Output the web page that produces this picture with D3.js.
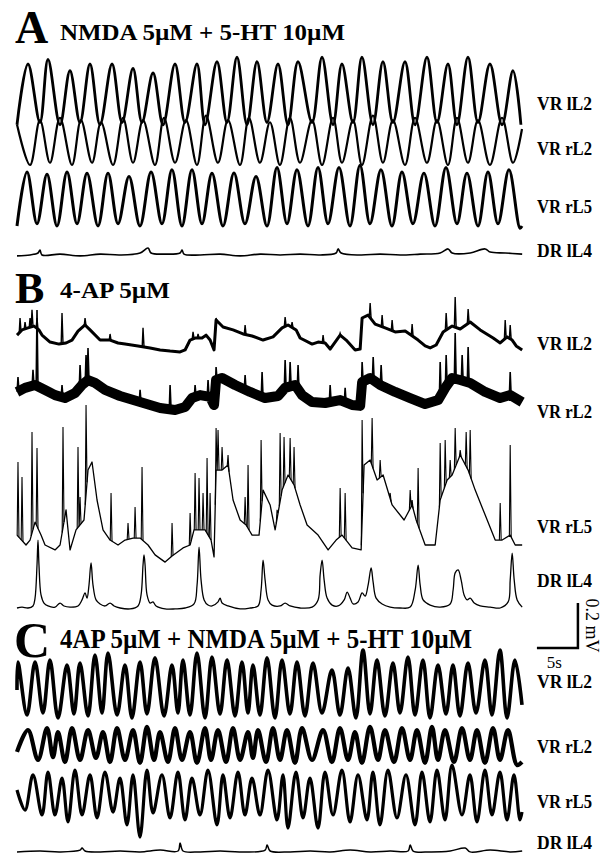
<!DOCTYPE html>
<html>
<head>
<meta charset="utf-8">
<script src="https://cdn.jsdelivr.net/npm/d3@7"></script>
<style>
  body { margin: 0; background: #fff; }
  svg { display: block; }
  text { font-family: "Liberation Serif", "Times New Roman", serif; fill: #000; }
</style>
</head>
<body>
<svg id="fig" width="610" height="854"></svg>
<script>
'use strict';

// ---- data: [time (s), potential (mV)] ----
const panelLetters = ['A', 'B', 'C'];
const panelTitles = ['NMDA 5\u00b5M + 5-HT 10\u00b5M', '4-AP 5\u00b5M', '4AP 5\u00b5M + NMDA 5\u00b5M + 5-HT 10\u00b5M'];
const channelLabels = ['VR lL2', 'VR rL2', 'VR rL5', 'DR lL4'];
const scaleBar = { seconds: 5, mV: 0.2 };

// Panel A
const aVRlL2 = [[0,0.01],[1.34,0.28],[2.8,0.02],[3.78,0.30],[5.24,0.01],[6.46,0.25],[7.68,0.02],[8.9,0.28],[10.12,0.01],[11.59,0.28],[12.81,0.02],[14.15,0.26],[15.24,0.02],[16.59,0.24],[17.81,0.01],[19.27,0.28],[20.49,0.02],[21.95,0.28],[22.93,0.01],[24.39,0.29],[25.61,0.02],[26.83,0.31],[28.05,0.01],[29.27,0.29],[30.49,0.02],[31.83,0.28],[33.05,0.01],[34.27,0.29],[35.98,0.02],[37.2,0.31],[38.54,0.01],[39.63,0.28],[40.98,0.02],[42.07,0.31],[43.41,0.01],[44.63,0.29],[45.85,0.02],[47.32,0.29],[48.54,0.01],[50.0,0.31],[51.22,0.02],[52.56,0.28],[53.66,0.01],[55.0,0.31],[56.22,0.02],[57.68,0.28],[59.15,0.01],[60.49,0.25],[61.46,0.01]];
const aVRrL2 = [[0,0.18],[1.59,0.0],[2.8,0.2],[4.02,0.01],[5.24,0.21],[6.71,0.0],[7.8,0.2],[9.15,0.01],[10.25,0.19],[11.71,0.0],[12.93,0.21],[14.15,0.01],[15.37,0.2],[16.83,0.0],[17.93,0.21],[19.27,0.01],[20.61,0.2],[21.95,0.0],[23.05,0.22],[24.51,0.01],[25.73,0.2],[27.2,0.0],[28.29,0.21],[29.63,0.01],[30.85,0.19],[32.07,0.0],[33.29,0.21],[34.51,0.01],[35.98,0.2],[37.2,0.0],[38.54,0.21],[39.63,0.01],[40.98,0.2],[42.07,0.0],[43.41,0.22],[44.63,0.01],[45.85,0.2],[47.32,0.0],[48.54,0.21],[50.0,0.01],[51.22,0.2],[52.56,0.0],[53.66,0.21],[55.0,0.01],[56.22,0.2],[57.68,0.0],[59.15,0.21],[60.49,0.01],[61.59,0.16]];
const aVRrL5 = [[0,0.0],[1.22,0.24],[2.44,0.01],[3.66,0.23],[4.88,0.0],[6.1,0.24],[7.32,0.01],[8.54,0.235],[9.88,0.0],[11.1,0.235],[12.32,0.01],[13.66,0.22],[15.0,0.0],[16.35,0.24],[17.68,0.01],[18.9,0.25],[20.12,0.0],[21.34,0.25],[22.56,0.01],[23.78,0.235],[25.12,0.0],[26.46,0.235],[27.8,0.01],[29.15,0.22],[30.49,0.0],[31.71,0.26],[32.93,0.01],[34.15,0.25],[35.49,0.0],[36.71,0.26],[37.93,0.01],[39.27,0.26],[40.61,0.0],[41.83,0.27],[43.05,0.01],[44.39,0.25],[45.73,0.0],[46.95,0.24],[48.29,0.01],[49.63,0.235],[50.98,0.0],[52.32,0.26],[53.66,0.01],[54.88,0.235],[56.22,0.0],[57.44,0.24],[58.66,0.01],[60.0,0.25],[61.34,-0.01],[61.59,0.0]];
const aDRlL4 = [[0,-0.004],[1.59,0],[2.56,0.009],[2.8,0.022],[3.05,0],[5.25,0.004],[7.69,-0.004],[10.13,0.004],[12.57,0],[15.01,0.009],[15.98,0.031],[16.35,0.009],[18.06,0.004],[19.89,0.009],[20.13,0.022],[20.37,0.004],[22.33,0],[24.77,0.004],[27.21,-0.004],[29.65,0.004],[32.09,0],[34.53,0.004],[36.97,0],[38.92,0.009],[39.16,0.027],[39.53,0.009],[41.85,0],[44.29,0.004],[46.73,0],[49.17,0.004],[51.61,0.009],[52.58,0.027],[53.07,0.009],[55.27,0.009],[57.1,0.027],[57.71,0.013],[59.54,0.009],[61.61,0.004]];

// Panel B: slow course plus fast spikes [time, peak]
const bVRlL2 = [[0,0.044],[0.61,0.067],[1.34,0.076],[2.07,0.084],[2.68,0.067],[3.05,0.044],[4.03,0.013],[5.12,0.004],[5.98,0.009],[6.71,0.022],[7.44,0.062],[8.3,0.089],[8.91,0.067],[10.13,0.022],[11.35,0.022],[12.32,0.009],[13.18,0.004],[14.76,-0.004],[16.23,-0.013],[17.45,-0.022],[18.67,-0.027],[19.89,-0.031],[20.5,-0.022],[21.11,0.022],[21.72,0.031],[22.57,0.031],[23.06,0.044],[23.55,0.022],[24.03,-0.022],[24.28,0.111],[25.13,0.08],[26.35,0.067],[27.57,0.049],[28.67,0.04],[30.01,0.022],[31.23,0.036],[32.33,0.076],[33.06,0.089],[34.04,0.067],[34.53,0.031],[35.99,0.004],[36.72,0.013],[37.58,0.009],[38.19,-0.018],[39.41,0.044],[40.14,0.022],[41.24,-0.022],[41.85,-0.018],[42.09,0.12],[42.82,0.133],[43.68,0.093],[44.9,0.076],[46.12,0.058],[47.34,0.062],[48.92,0.022],[49.78,-0.004],[50.39,-0.013],[51.12,0.0],[51.97,0.058],[53.07,0.084],[54.05,0.071],[55.27,0.102],[56.49,0.067],[58.07,0.031],[58.93,0.009],[59.78,0.036],[60.39,0.022],[60.88,-0.004],[61.61,-0.022]];
const bVRlL2Spikes = [[0.37,0.12],[0.98,0.102],[1.59,0.12],[1.83,0.156],[2.44,0.12],[5.49,0.142],[8.3,0.12],[11.35,0.049],[15.37,0.076],[21.47,0.058],[22.08,0.049],[24.28,0.12],[27.82,0.089],[32.7,0.124],[33.55,0.102],[37.33,0.044],[39.41,0.053],[43.07,0.187],[44.53,0.133],[45.75,0.111],[48.19,0.093],[52.34,0.142],[53.44,0.213],[55.02,0.16],[59.54,0.111],[60.15,0.089]];
const bVRrL2 = [[0,0.058],[0.98,0.076],[2.2,0.089],[3.42,0.067],[4.64,0.044],[5.86,0.031],[7.08,0.053],[7.93,0.089],[8.66,0.111],[9.52,0.098],[10.74,0.067],[12.57,0.04],[15.01,0.013],[17.45,-0.013],[19.28,-0.022],[20.5,-0.009],[21.35,0.031],[22.33,0.044],[23.55,0.036],[24.03,0.0],[24.28,0.111],[25.01,0.12],[26.6,0.089],[28.43,0.058],[30.26,0.031],[31.84,0.04],[32.7,0.076],[33.92,0.089],[34.77,0.044],[35.99,0.013],[37.58,0.009],[39.41,0.022],[40.87,0.0],[41.85,-0.004],[42.09,0.102],[43.07,0.12],[44.29,0.089],[46.12,0.058],[47.95,0.031],[49.78,0.004],[51.37,0.022],[52.22,0.076],[53.07,0.12],[54.05,0.111],[55.27,0.098],[57.1,0.058],[58.93,0.031],[60.15,0.044],[61.61,0.013]];
const bVRrL2Spikes = [[0.12,0.124],[1.95,0.156],[2.44,0.422],[5.49,0.089],[7.69,0.178],[8.42,0.222],[8.66,0.253],[15.01,0.067],[18.67,0.089],[21.72,0.089],[23.3,0.111],[24.28,0.169],[27.82,0.133],[29.89,0.147],[32.7,0.2],[33.31,0.191],[34.28,0.178],[38.19,0.089],[40.02,0.076],[42.09,0.191],[43.44,0.213],[44.41,0.178],[51.61,0.191],[52.34,0.222],[53.44,0.32],[54.29,0.222],[55.02,0.258],[60.15,0.147]];
const bVRrL5 = [[0,0.044],[1.1,0],[1.59,0.022],[2.2,0.102],[2.93,0.044],[3.42,0],[4.64,-0.022],[5.25,0],[5.98,0.156],[6.47,-0.022],[7.2,0.067],[8.17,0.111],[8.66,0.333],[9.15,0.369],[9.76,0.2],[10.49,0.067],[11.35,0.022],[12.32,0],[13.18,0.022],[14.15,0.031],[15.01,0.031],[15.98,0],[16.84,-0.044],[18.06,-0.076],[18.91,-0.049],[20.25,-0.013],[21.11,0],[21.59,0.067],[22.33,0.067],[22.94,0.067],[23.67,0.022],[24.03,-0.053],[24.28,0.333],[25.01,0.333],[25.74,0.356],[26.35,0.2],[27.21,0.111],[27.94,0.089],[28.67,0.044],[29.52,0.044],[30.01,0.244],[30.87,0.178],[31.48,0.067],[32.33,0.244],[33.06,0.311],[33.79,0.267],[34.53,0.178],[35.38,0.089],[36.72,0.044],[37.94,-0.022],[38.92,0.022],[39.65,0.044],[40.87,-0.013],[41.97,-0.022],[42.33,0.356],[43.07,0.378],[43.92,0.289],[44.65,0.311],[45.75,0.178],[47.21,0.111],[48.19,0.178],[48.68,0.111],[49.78,0],[51.0,0],[51.61,0.2],[52.46,0.289],[53.07,0.311],[54.05,0.4],[55.02,0.333],[55.88,0.244],[57.1,0.133],[58.32,0.022],[59.17,0.022],[60.15,0.044],[60.76,0],[61.61,0]];
const bVRrL5Spikes = [[0.12,0.369],[0.61,0.302],[1.83,0.502],[2.44,0.431],[5.61,0.524],[7.44,0.436],[7.69,0.213],[8.42,0.622],[11.47,0.231],[13.54,0.098],[14.4,0.169],[15.25,0.347],[18.91,0.098],[21.11,0.142],[21.72,0.32],[22.2,0.298],[22.69,0.231],[23.18,0.387],[23.55,0.231],[24.28,0.52],[24.52,0.511],[25.01,0.436],[25.74,0.4],[27.82,0.213],[28.18,0.356],[29.77,0.467],[31.72,0.156],[32.09,0.498],[32.57,0.48],[33.31,0.476],[33.79,0.436],[39.41,0.253],[40.02,0.231],[42.09,0.556],[43.31,0.564],[44.29,0.378],[45.51,0.231],[47.95,0.244],[48.19,0.2],[48.92,0.342],[51.61,0.453],[52.22,0.467],[52.83,0.378],[53.44,0.52],[54.05,0.422],[54.78,0.502],[55.27,0.511],[58.93,0.187],[60.15,0.444]];
const bDRlL4 = [[0,0],[0.61,0.004],[1.34,0],[1.95,0.009],[2.2,0.044],[2.44,0.191],[2.56,0.302],[2.68,0.191],[2.93,0.058],[3.29,0.022],[3.78,0.009],[4.64,0.004],[5.25,0.022],[5.73,0.009],[6.47,0.004],[7.44,0.009],[7.93,0.036],[8.3,0.067],[8.54,0.044],[8.78,0.102],[9.03,0.2],[9.27,0.102],[9.64,0.036],[10.13,0.018],[10.74,0.009],[11.35,0.022],[11.84,0.009],[12.57,0],[13.79,-0.004],[14.76,0.009],[15.13,0.058],[15.37,0.191],[15.49,0.236],[15.62,0.191],[15.86,0.058],[16.23,0.022],[16.59,0.027],[16.96,0.009],[18.06,-0.004],[19.28,-0.004],[20.5,0],[21.59,0.018],[21.96,0.102],[22.2,0.271],[22.45,0.124],[22.82,0.036],[23.3,0.013],[23.79,0.009],[24.52,0.027],[24.77,0.044],[25.01,0.022],[25.74,0.009],[27.21,-0.004],[28.43,0],[29.4,0.009],[29.77,0.08],[30.01,0.213],[30.26,0.124],[30.62,0.036],[31.11,0.013],[32.09,0.009],[32.7,0.022],[33.31,0.009],[34.53,0],[35.99,0.004],[36.72,0.036],[36.97,0.147],[37.21,0.213],[37.46,0.124],[37.82,0.044],[38.43,0.013],[39.16,0.009],[39.9,0.036],[40.26,0.071],[40.63,0.044],[40.99,0.018],[41.6,0.027],[42.09,0.067],[42.46,0.053],[42.82,0.102],[43.19,0.178],[43.43,0.116],[43.8,0.044],[44.53,0.018],[45.51,0.004],[46.73,0],[47.95,0.004],[48.56,0.08],[48.92,0.191],[49.17,0.102],[49.53,0.036],[50.39,0.013],[51.61,0.004],[52.83,0.018],[53.19,0.08],[53.44,0.156],[53.8,0.169],[54.17,0.124],[54.53,0.058],[54.9,0.036],[55.27,0.044],[55.76,0.022],[56.49,0.009],[57.71,0.004],[58.93,0],[59.9,0.027],[60.15,0.124],[60.39,0.244],[60.64,0.124],[61.0,0.036],[61.61,0.004]];

// Panel C
const cVRlL2 = [[0,0.133],[0.12,0.258],[1.22,0.022],[2.2,0.258],[3.17,0.031],[4.02,0.267],[5.0,0.009],[6.1,0.244],[6.95,0.027],[7.68,0.253],[8.66,0.018],[9.51,0.289],[10.37,0.031],[11.1,0.298],[12.2,0.022],[13.17,0.244],[14.02,0.009],[15.0,0.258],[15.85,0.027],[16.83,0.276],[17.93,0.018],[18.9,0.244],[19.63,0.031],[20.24,0.267],[21.1,0.022],[21.95,0.298],[22.93,0.009],[23.78,0.28],[24.76,0.027],[25.61,0.267],[26.59,0.018],[27.44,0.258],[28.17,0.031],[28.78,0.244],[29.63,0.022],[30.49,0.276],[31.46,0.009],[32.32,0.267],[33.29,0.027],[34.15,0.258],[35.12,0.018],[36.1,0.253],[37.2,0.031],[38.41,0.222],[39.39,0.022],[40.37,0.231],[41.34,0.009],[42.2,0.311],[43.05,0.027],[43.9,0.267],[44.88,0.018],[45.85,0.253],[46.71,0.031],[47.68,0.28],[48.54,0.022],[49.51,0.267],[50.37,0.009],[51.34,0.244],[52.32,0.027],[53.17,0.244],[54.02,0.018],[55.0,0.253],[55.98,0.031],[57.07,0.267],[57.93,0.022],[58.9,0.311],[59.76,0.009],[60.73,0.267],[61.59,0.067]];
const cVRrL2 = [[0,0.036],[1.34,0.133],[2.56,0],[3.66,0.142],[4.39,0.013],[5.0,0.124],[5.85,-0.009],[6.71,0.142],[7.68,0],[8.66,0.133],[9.63,0.009],[10.49,0.124],[11.34,-0.009],[12.2,0.142],[13.17,0],[14.15,0.133],[15.0,-0.013],[15.85,0.147],[16.71,0],[17.44,0.124],[18.41,-0.009],[19.27,0.142],[20.12,0],[21.1,0.124],[21.95,-0.013],[22.93,0.142],[23.66,0],[24.51,0.133],[25.49,-0.009],[26.34,0.142],[27.2,0],[28.17,0.124],[28.78,0.009],[29.39,0.133],[30.37,-0.009],[31.22,0.142],[32.07,0],[32.93,0.133],[33.9,-0.013],[34.76,0.142],[35.98,0],[37.32,0.133],[38.41,-0.009],[39.39,0.142],[40.37,0],[41.22,0.124],[42.07,-0.013],[43.05,0.147],[44.02,0],[44.88,0.133],[45.98,-0.009],[46.95,0.142],[47.93,0],[48.78,0.133],[49.76,-0.013],[50.61,0.147],[51.34,0],[52.2,0.133],[53.29,-0.009],[54.27,0.142],[55.24,0],[56.1,0.133],[57.07,-0.013],[58.05,0.142],[58.9,0],[59.88,0.133],[60.98,-0.022],[61.59,-0.009]];
const cVRrL5 = [[0,0.111],[0.98,0.022],[1.95,0.178],[3.05,0],[3.78,0.191],[4.63,0],[5.49,0.164],[6.22,-0.031],[7.07,0.2],[7.93,0],[8.9,0.178],[9.76,-0.013],[10.73,0.191],[11.71,0.013],[12.56,0.164],[13.41,-0.044],[14.15,0.178],[15.0,-0.098],[15.85,0.2],[16.59,0.009],[17.68,0.178],[18.66,-0.013],[19.63,0.191],[20.49,-0.022],[21.34,0.164],[22.32,0],[23.29,0.2],[24.39,-0.044],[25.12,0.178],[25.98,-0.013],[26.95,0.191],[27.8,0],[28.66,0.164],[29.63,0],[30.61,0.2],[31.71,-0.022],[32.44,0.178],[33.05,-0.058],[34.02,0.191],[34.88,-0.013],[35.73,0.164],[36.71,-0.058],[37.56,0.191],[38.54,0],[39.63,0.2],[40.61,-0.031],[41.59,0.178],[42.68,-0.022],[43.41,0.191],[44.27,-0.044],[45.24,0.2],[46.34,-0.013],[47.44,0.178],[48.54,-0.044],[49.39,0.191],[50.37,-0.031],[51.22,0.2],[52.2,-0.022],[53.05,0.222],[54.27,0],[55.24,0.178],[56.1,-0.031],[57.07,0.2],[57.93,0],[58.9,0.191],[59.76,-0.022],[60.61,0.178],[61.34,-0.022],[61.59,0.013]];
const cDRlL4 = [[0,-0.004],[2.81,0],[5.25,-0.004],[7.69,0.004],[7.93,0.013],[8.3,0],[10.13,-0.004],[12.57,0],[15.01,-0.004],[17.45,0.004],[19.64,0],[19.89,0.036],[20.25,0],[22.33,-0.004],[24.77,0],[27.21,-0.004],[30.26,0.004],[30.5,0.027],[30.87,0],[33.31,-0.004],[35.75,0],[38.19,-0.004],[40.63,0.004],[43.07,-0.004],[45.51,0],[47.7,0],[47.95,0.027],[48.31,0],[50.39,-0.004],[52.83,0],[54.66,0.013],[55.27,-0.004],[57.71,0.004],[60.15,-0.004],[61.61,0]];

// ---- layout ----
const svg = d3.select('#fig');
const pxPerMV = 225;
const x = d3.scaleLinear().domain([0, 61.59]).range([17, 522]);
const smooth = d3.curveCatmullRom.alpha(0.5);

function yAt(base) {
  return d3.scaleLinear().domain([0, 0.2]).range([base, base - 0.2 * pxPerMV]);
}

// linear reading of the slow course at time t (used to seat spikes on it)
function slowAt(pts, t) {
  const i = Math.min(Math.max(d3.bisector(d => d[0]).right(pts, t), 1), pts.length - 1);
  const a = pts[i - 1], b = pts[i];
  const k = (t - a[0]) / (b[0] - a[0]);
  return a[1] + (b[1] - a[1]) * Math.max(0, Math.min(1, k));
}

// width = thickness of the noise band around each trace
const traces = [
  { data: aVRlL2, base: 127, width: 2.8, curve: smooth },
  { data: aVRrL2, base: 165, width: 2.2, curve: smooth },
  { data: aVRrL5, base: 226, width: 3, curve: smooth },
  { data: aDRlL4, base: 255, width: 1.6, curve: smooth },
  { data: bVRlL2, base: 345, width: 3, curve: d3.curveLinear, spikes: bVRlL2Spikes, spikeWidth: 1.4 },
  { data: bVRrL2, base: 405, width: 10, curve: d3.curveLinear, spikes: bVRrL2Spikes, spikeWidth: 1.6 },
  { data: bVRrL5, base: 545, width: 1.3, curve: d3.curveLinear, spikes: bVRrL5Spikes, spikeWidth: 1.1 },
  { data: bDRlL4, base: 608, width: 1.3, curve: smooth },
  { data: cVRlL2, base: 720, width: 3.6, curve: smooth },
  { data: cVRrL2, base: 760, width: 4.2, curve: smooth },
  { data: cVRrL5, base: 815, width: 3.2, curve: smooth },
  { data: cDRlL4, base: 851, width: 1.5, curve: smooth }
];

const labelBaselines = [[110, 155, 213, 257], [350, 418, 533, 587], [688, 753, 808, 849]];
const titlePos = [
  { letter: [15, 43], size: 46, text: [60, 40], textSize: 24, len: 285 },
  { letter: [15, 303], size: 44, text: [60, 298], textSize: 24, len: 110 },
  { letter: [14, 657], size: 50, text: [60, 648], textSize: 27, len: 412 }
];

const g = svg.append('g');

traces.forEach((tr) => {
  const y = yAt(tr.base);
  const line = d3.line().x(d => x(d[0])).y(d => y(d[1])).curve(tr.curve);
  g.append('path')
    .attr('d', line(tr.data))
    .attr('fill', 'none')
    .attr('stroke', '#000')
    .attr('stroke-width', tr.width)
    .attr('stroke-linejoin', 'round');

  if (tr.spikes) {
    const sl = d3.line().x(d => x(d[0])).y(d => y(d[1]));
    g.append('path')
      .attr('d', tr.spikes.map(s => sl([
        [s[0] - 0.1, slowAt(tr.data, s[0] - 0.1)],
        [s[0], s[1]],
        [s[0] + 0.12, slowAt(tr.data, s[0] + 0.12)]
      ])).join(''))
      .attr('fill', 'none')
      .attr('stroke', '#000')
      .attr('stroke-width', tr.spikeWidth)
      .attr('stroke-linejoin', 'miter');
  }
});

// panel titles
panelLetters.forEach((L, i) => {
  const p = titlePos[i];
  svg.append('text')
    .attr('x', p.letter[0]).attr('y', p.letter[1])
    .attr('font-size', p.size).attr('font-weight', 'bold')
    .text(L);
  svg.append('text')
    .attr('x', p.text[0]).attr('y', p.text[1])
    .attr('font-size', p.textSize).attr('font-weight', 'bold')
    .attr('textLength', p.len).attr('lengthAdjust', 'spacingAndGlyphs')
    .text(panelTitles[i]);
});

// channel labels
labelBaselines.forEach((row) => {
  row.forEach((yb, j) => {
    svg.append('text')
      .attr('x', 537).attr('y', yb)
      .attr('font-size', 19).attr('font-weight', 'bold')
      .attr('textLength', 55).attr('lengthAdjust', 'spacingAndGlyphs')
      .text(channelLabels[j]);
  });
});

// scale bar, drawn with the same scales as the traces
const sbY = yAt(648);
const t0 = 63.41;
svg.append('path')
  .attr('d', d3.line()([
    [x(t0), sbY(0)],
    [x(t0 + scaleBar.seconds), sbY(0)],
    [x(t0 + scaleBar.seconds), sbY(scaleBar.mV)]
  ]))
  .attr('fill', 'none')
  .attr('stroke', '#000')
  .attr('stroke-width', 2.5);

svg.append('text')
  .attr('x', x(t0 + 1.2)).attr('y', 668)
  .attr('font-size', 17)
  .text(scaleBar.seconds + 's');

svg.append('text')
  .attr('transform', `translate(${x(t0 + scaleBar.seconds) + 8},${sbY(scaleBar.mV / 2)}) rotate(90)`)
  .attr('text-anchor', 'middle')
  .attr('font-size', 18)
  .text(scaleBar.mV + ' mV');
</script>
</body>
</html>
